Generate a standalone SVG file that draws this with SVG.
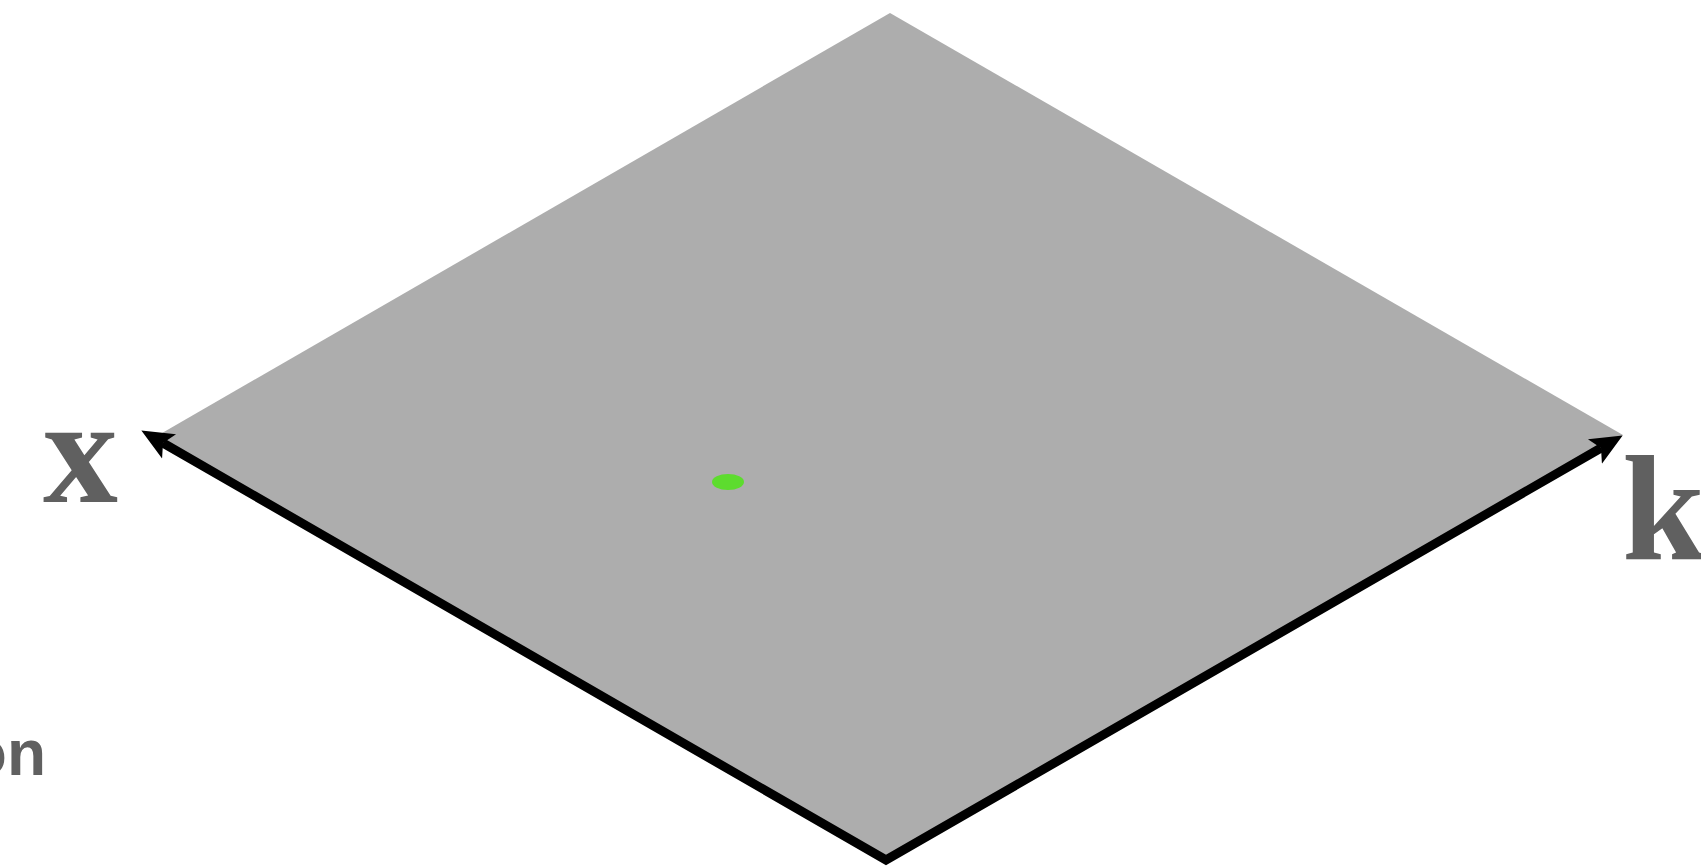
<svg xmlns="http://www.w3.org/2000/svg" width="1701" height="868" viewBox="0 0 1701 868">
<style>
.lbl{font-family:"Liberation Serif","Times New Roman",serif;font-weight:bold;fill:#606060;font-size:150px}
.lbl2{font-family:"Liberation Sans",Arial,sans-serif;font-weight:bold;fill:#606060;font-size:64px}
.axis{fill:none;stroke:#000;stroke-width:9;stroke-linejoin:miter;stroke-miterlimit:10}
</style>
<defs>
<marker id="ah" viewBox="0 0 34 30" refX="7" refY="15" markerWidth="34" markerHeight="30" markerUnits="userSpaceOnUse" orient="auto-start-reverse">
<path d="M0,1 L32,15 L0,29 L7,15 Z" fill="#000"/>
</marker>
</defs>
<g id="plane">
<polygon points="890,13 1623,435 886,860 150,440" fill="#adadad"/>
</g>
<g id="point">
<ellipse cx="728" cy="482" rx="16" ry="8" fill="#5ddc2e"/>
</g>
<g id="connectors">
<polyline class="axis" points="163,443 886,860 1601,448" marker-start="url(#ah)" marker-end="url(#ah)"/>
</g>
<g id="label-x"><text class="lbl" x="43" y="502">x</text></g>
<g id="label-k"><text class="lbl" x="1622" y="560">k</text></g>
<g id="label-on"><text class="lbl2" x="46" y="775" text-anchor="end">on</text></g>
</svg>
